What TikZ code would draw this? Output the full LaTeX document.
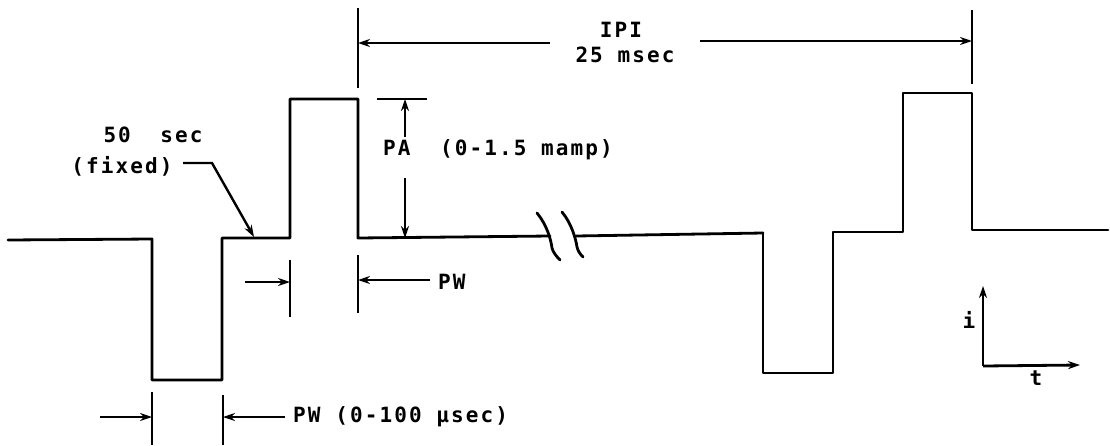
\documentclass[tikz,border=0pt]{standalone}
\usepackage{fontspec}
\newfontfamily\plotfont[LetterSpace=10]{DejaVu Sans Mono Bold}
\usetikzlibrary{arrows.meta}
\tikzset{
  wave/.style={line width=2.8pt, line join=round, line cap=round},
  tick/.style={line width=2.6pt},
  dimarrow/.style={line width=2.4pt, -{Stealth[length=12pt,width=8pt]}},
  lbl/.style={font=\plotfont\fontsize{21}{25}\selectfont, inner sep=0pt},
}
\begin{document}
\begin{tikzpicture}[x=1pt,y=-1pt]
\useasboundingbox (0,0) rectangle (1110,445);
% waveform, first pulse pair
\draw[wave] (8,240) -- (152,239) -- (152,380) -- (222,380) -- (222,238) -- (290,238)
  -- (290,99) -- (358,99) -- (358,238) -- (550,236);
% break
\draw[wave] (576,236) -- (763,233);
\draw[wave] (537,213) .. controls (547,225) and (551,240) .. (552,248) .. controls (553,252) and (556,256) .. (560,260);
\draw[wave] (562,212) .. controls (572,224) and (576,240) .. (577,247) .. controls (578,251) and (580,254) .. (583,257);
% second pulse pair
\draw[wave] (763,233) -- (763,373) -- (833,373) -- (833,232) -- (903,232) -- (903,93)
  -- (972,93) -- (972,230) -- (1108,230);
% IPI dimension
\coordinate (ipiL) at (358,43);
\coordinate (ipiR) at (972,41);
\draw[tick] (358,8) -- (358,88);
\draw[tick] (972,10) -- (972,84);
\node[lbl] (ipi) at (621,30) {IPI};
\node[lbl] (ipims) at (625,55) {25 msec};
\draw[dimarrow] (550,43) -- (ipiL);
\draw[dimarrow] (700,41) -- (ipiR);
% PA dimension
\draw[tick] (377,99) -- (427,99);
\node[lbl, anchor=west] (pa) at (383,150) {PA\ \ (0-1.5 mamp)};
\coordinate (paT) at (405,99);
\coordinate (paB) at (405,238);
\draw[dimarrow] (405,137) -- (paT);
\draw[dimarrow] (405,178) -- (paB);
% upper PW
\draw[tick] (290,260) -- (290,317);
\draw[tick] (358,255) -- (358,313);
\coordinate (pw1L) at (290,282);
\coordinate (pw1R) at (358,280);
\draw[dimarrow] (245,282) -- (pw1L);
\draw[dimarrow] (430,280) -- (pw1R);
\node[lbl, anchor=west] (pw1) at (438,282) {PW};
% lower PW
\draw[tick] (152,392) -- (152,445);
\draw[tick] (223,395) -- (223,445);
\coordinate (pw2L) at (152,417);
\coordinate (pw2R) at (223,417);
\draw[dimarrow] (100,417) -- (pw2L);
\draw[dimarrow] (285,417) -- (pw2R);
\node[lbl, anchor=west] (pw2) at (293,417) {PW\ (0-100 μsec)};
% 50 sec (fixed)
\node[lbl] (fs) at (153,135) {50\ \ sec};
\node[lbl] (fx) at (122,166) {(fixed)};
\coordinate (fxTip) at (254,237);
\draw[dimarrow] (183,163) -- (212,163) -- (fxTip);
% axes
\coordinate (o) at (983,366);
\coordinate (iy) at (983,286);
\coordinate (tx) at (1080,365);
\draw[dimarrow, line width=2.8pt] (o) -- (iy);
\draw[dimarrow, line width=2.8pt] (o) -- (tx);
\node[lbl] (il) at (969,320) {i};
\node[lbl] (tl) at (1036,378) {t};
\end{tikzpicture}
\end{document}
